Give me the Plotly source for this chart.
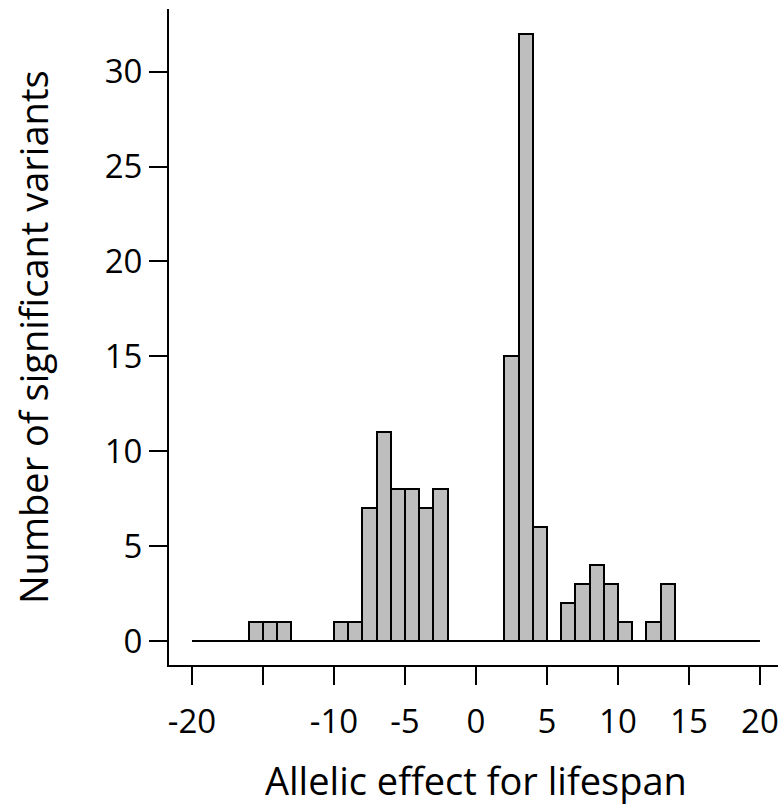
import plotly.graph_objects as go

# Histogram bins (left edges, width 1) from -20 to 20 and counts
bin_left = list(range(-20, 20))
counts = [0, 0, 0, 0, 1, 1, 1, 0, 0, 0,   # -20 .. -11
          1, 1, 7, 11, 8, 8, 7, 8, 0, 0,  # -10 .. -1
          0, 0, 15, 32, 6, 0, 2, 3, 4, 3, # 0 .. 9
          1, 0, 1, 3, 0, 0, 0, 0, 0, 0]   # 10 .. 19
bin_width = 1

x_tick_vals = [-20, -15, -10, -5, 0, 5, 10, 15, 20]
x_tick_text = ["-20", "", "-10", "-5", "0", "5", "10", "15", "20"]
y_tick_vals = [0, 5, 10, 15, 20, 25, 30]

x_title = "Allelic effect for lifespan"
y_title = "Number of significant variants"

centers = [b + bin_width / 2 for b in bin_left]
nz_x = [c for c, n in zip(centers, counts) if n > 0]
nz_y = [n for n in counts if n > 0]

FONT = "Open Sans"

fig = go.Figure()
# baseline spanning all bins (zero-count bins drawn as flat line)
fig.add_trace(go.Scatter(
    x=[bin_left[0], bin_left[-1] + bin_width], y=[0, 0],
    mode="lines", line=dict(color="black", width=2),
    hoverinfo="skip", showlegend=False))
fig.add_trace(go.Bar(
    x=nz_x, y=nz_y, width=bin_width,
    marker=dict(color="#bebebe", line=dict(color="black", width=2)),
    showlegend=False))

fig.update_layout(
    width=778, height=805,
    margin=dict(l=169, r=0, t=9, b=140, autoexpand=False),
    paper_bgcolor="white", plot_bgcolor="white",
    font=dict(family=FONT, color="black", size=33),
    bargap=0,
    xaxis=dict(
        range=[-21.62, 21.27], showgrid=False, zeroline=False,
        showline=True, linecolor="black", linewidth=2, mirror=False,
        ticks="outside", ticklen=18, tickwidth=2, tickcolor="black",
        tickvals=x_tick_vals, ticktext=x_tick_text, automargin=False,
        ticklabeloverflow="allow", ticklabelstandoff=8,
        tickfont=dict(family=FONT, size=33, color="black"),
    ),
    yaxis=dict(
        range=[-1.264, 33.30], showgrid=False, zeroline=False,
        showline=True, linecolor="black", linewidth=2, mirror=False,
        ticks="outside", ticklen=18, tickwidth=2, tickcolor="black",
        tickvals=y_tick_vals, automargin=False,
        tickfont=dict(family=FONT, size=33, color="black"),
    ),
    annotations=[
        dict(text=x_title, xref="x", yref="paper", x=0, y=-0.176,
             xanchor="center", yanchor="middle", showarrow=False,
             font=dict(family=FONT, size=38, color="black")),
        dict(text=y_title, xref="paper", yref="paper", x=-0.2233, y=0.5,
             xanchor="center", yanchor="middle", showarrow=False, textangle=-90,
             font=dict(family=FONT, size=38, color="black")),
    ],
)

fig.write_html(
    "out.html",
    config={"displayModeBar": False},
    post_script="document.body.style.margin='0';document.body.style.padding='0';"
                "document.body.style.overflow='hidden';",
)
